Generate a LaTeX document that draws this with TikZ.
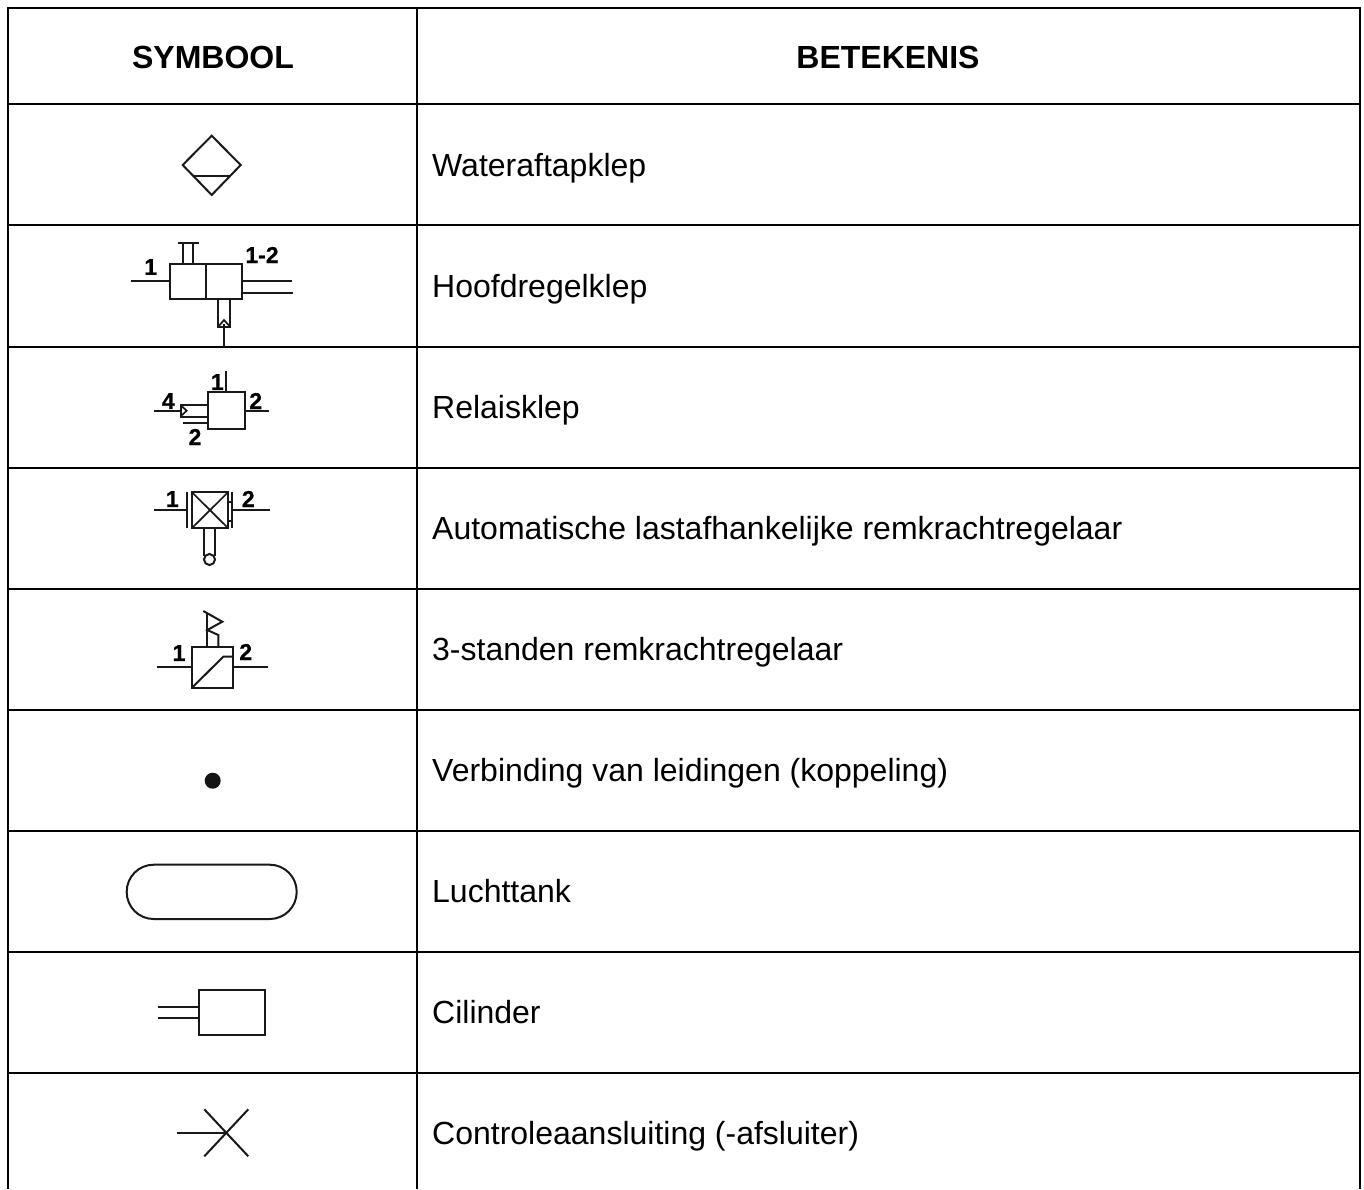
\documentclass[tikz,border=0pt]{standalone}
\usepackage{fontspec}
\setmainfont{Liberation Sans}
\newfontfamily\portfont[FakeBold=0.7]{Liberation Sans Bold}
\tikzset{
 x=1pt,y=-1pt,
 grid/.style={line width=2.4pt,black},
 sym/.style={line width=2pt,black!90,line join=miter},
 thinsym/.style={line width=1.7pt,black!90,line join=miter},
 hdr/.style={font=\fontsize{32}{34}\selectfont\bfseries,inner sep=0pt},
 txt/.style={font=\fontsize{32}{35}\selectfont,anchor=base west,inner sep=0pt},
 port/.style={font=\fontsize{23}{25}\portfont,inner sep=0pt}
}
\begin{document}
\begin{tikzpicture}
\useasboundingbox (0,0) rectangle (1364,1189);
\fill[white] (0,0) rectangle (1364,1189);
% table
\draw[grid] (8,1189) -- (8,8) -- (1360,8) -- (1360,1189);
\draw[grid] (417,8) -- (417,1189);
\foreach \yy in {104,225,347,468,589,710,831,952,1073}
  \draw[grid] (8,\yy) -- (1360,\yy);
% headers
\node[hdr] (h1) at (213,57.5) {SYMBOOL};
\node[hdr] (h2) at (888,57.5) {BETEKENIS};
% meanings
\node[txt] (t1) at (432,176) {Wateraftapklep};
\node[txt] (t2) at (432,297) {Hoofdregelklep};
\node[txt] (t3) at (432,418) {Relaisklep};
\node[txt] (t4) at (432,539) {Automatische lastafhankelijke remkrachtregelaar};
\node[txt] (t5) at (432,660) {3-standen remkrachtregelaar};
\node[txt] (t6) at (432,781) {Verbinding van leidingen (koppeling)};
\node[txt] (t7) at (432,902) {Luchttank};
\node[txt] (t8) at (432,1023) {Cilinder};
\node[txt] (t9) at (432,1144) {Controleaansluiting (-afsluiter)};
% Wateraftapklep
\draw[sym] (211.7,135.7) -- (240.7,165) -- (211.7,195) -- (182.7,165) -- cycle;
\draw[sym] (193.3,175.7) -- (230,175.7);
% Hoofdregelklep
\draw[sym] (170.3,263.7) rectangle (241.7,299.3);
\draw[sym] (206,263.7) -- (206,299.3);
\draw[sym] (130.7,281.3) -- (170.3,281.3);
\draw[sym] (177.7,243.3) -- (199.3,243.3);
\draw[sym] (183.3,243.3) -- (183.3,263.7);
\draw[sym] (193.3,243.3) -- (193.3,263.7);
\draw[sym] (241.7,281.3) -- (292.3,281.3);
\draw[sym] (241.7,293) -- (293.3,293);
\draw[sym] (218.3,299.3) -- (218.3,326.7) -- (230,326.7) -- (230,299.3);
\draw[thinsym] (218.3,326.7) -- (224,320) -- (230,326.7);
\draw[sym] (224,324) -- (224,347);
\node[port] (a1) at (150.7,267) {1};
\node[port] (a2) at (262,255) {1-2};
% Relaisklep
\draw[sym] (208,392.3) rectangle (245,429);
\draw[sym] (226.3,371) -- (226.3,392.3);
\draw[sym] (245,410.7) -- (269,410.7);
\draw[sym] (208,405) -- (180.7,405) -- (180.7,416.7) -- (208,416.7);
\draw[sym] (154.3,410.7) -- (180.7,410.7);
\draw[thinsym] (181.5,406) -- (186.7,410.7) -- (181.5,415.5);
\draw[sym] (182.7,422.7) -- (208,422.7);
\node[port] (b1) at (217.3,382) {1};
\node[port] (b2) at (255.7,401) {2};
\node[port] (b3) at (168.3,401) {4};
\node[port] (b4) at (195,437) {2};
% Remkrachtregelaar
\draw[sym] (191.7,492) rectangle (228.3,528.3);
\draw[thinsym] (191.7,492) -- (228.3,528.3);
\draw[thinsym] (191.7,528.3) -- (228.3,492);
\draw[sym] (186.7,492) -- (186.7,528.3);
\draw[sym] (232.3,492) -- (232.3,528.3);
\draw[sym] (228.3,501.7) -- (232.3,501.7);
\draw[sym] (228.3,520.7) -- (232.3,520.7);
\draw[sym] (154.3,510) -- (186.7,510);
\draw[sym] (232.3,510) -- (270,510);
\draw[sym] (204,528.3) -- (204,556);
\draw[sym] (215,528.3) -- (215,556);
\draw[sym] (209.5,559.5) circle (5.5);
\node[port] (c1) at (172.3,499) {1};
\node[port] (c2) at (248.3,499) {2};
% 3-standen
\draw[sym] (192,647) rectangle (232.7,687.7);
\draw[sym] (156.7,667) -- (192,667);
\draw[sym] (232.7,667) -- (268.3,667);
\draw[sym] (192,687.7) -- (223.3,656.7) -- (232.7,656.7);
\draw[sym] (207.3,647) -- (207.3,613);
\draw[sym] (203.3,611) -- (222.3,621.7) -- (207.3,630) -- (218.3,635) -- (218.3,647);
\node[port] (d1) at (179,653) {1};
\node[port] (d2) at (245.7,652) {2};
% Koppeling
\fill[black!92] (212.7,780.7) circle (8);
% Luchttank
\draw[sym,rounded corners=27pt] (126.7,864.7) rectangle (296.7,919);
% Cilinder
\draw[sym] (199,990) rectangle (265,1035);
\draw[sym] (158.3,1006.7) -- (199,1006.7);
\draw[sym] (158.3,1017.7) -- (199,1017.7);
% Controle
\coordinate (x0) at (226,1132.7);
\draw[sym] (204.3,1109.3) -- (248.3,1156.3);
\draw[sym] (248.3,1109.3) -- (204.3,1156.3);
\draw[sym] (176.7,1132.7) -- (x0);
\end{tikzpicture}
\end{document}
